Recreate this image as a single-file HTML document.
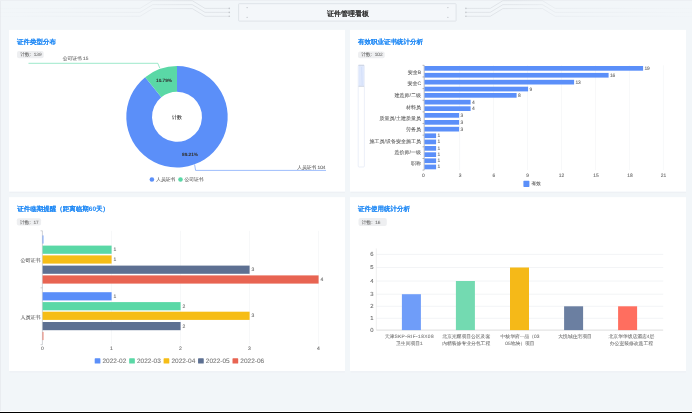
<!DOCTYPE html>
<html><head><meta charset="utf-8"><style>
html,body{margin:0;padding:0;width:692px;height:413px;overflow:hidden;background:#f2f6f9;}
#stage{position:absolute;left:0;top:0;width:2768px;height:1652px;overflow:hidden;transform:scale(0.25);transform-origin:0 0;font-family:"Liberation Sans", sans-serif;text-rendering:geometricPrecision;}
#stage svg{position:absolute;left:0;top:0;}
.t{position:absolute;white-space:nowrap;filter:blur(0.8px);}
</style></head><body><div id="stage">
<svg width="2768" height="1652" viewBox="0 0 692 413">
<rect x="0.00" y="0.00" width="692.00" height="413.00" rx="0" fill="#f2f6f9" />
<rect x="0.00" y="0.00" width="1.00" height="413.00" rx="0" fill="#e9ecf0" />
<rect x="0.00" y="0.00" width="692.00" height="1.00" rx="0" fill="#eceff3" />
<rect x="0.00" y="411.00" width="692.00" height="1.00" rx="0" fill="#ffffff" />
<rect x="0.00" y="412.00" width="692.00" height="1.00" rx="0" fill="#000000" />
<defs><linearGradient id="gl" gradientUnits="userSpaceOnUse" x1="0" y1="0" x2="230" y2="0"><stop offset="0" stop-color="#dfe3e8" stop-opacity="0.1"/><stop offset="0.6" stop-color="#dfe3e8" stop-opacity="0.6"/><stop offset="0.85" stop-color="#d9dde2"/></linearGradient><linearGradient id="gr" gradientUnits="userSpaceOnUse" x1="692" y1="0" x2="465" y2="0"><stop offset="0" stop-color="#dfe3e8" stop-opacity="0.1"/><stop offset="0.6" stop-color="#dfe3e8" stop-opacity="0.6"/><stop offset="0.85" stop-color="#d9dde2"/></linearGradient></defs>
<polyline points="0,8.4 140,8.4 152.7,0.7 192.3,0.7 205,8.4 229,8.4" fill="none" stroke="url(#gl)" stroke-width="0.7"/>
<polyline points="695.2,8.4 555.2,8.4 542.5,0.7 502.90000000000003,0.7 490.20000000000005,8.4 466.20000000000005,8.4" fill="none" stroke="url(#gr)" stroke-width="0.7"/>
<polyline points="0,12.350000000000001 140,12.350000000000001 152.7,4.65 192.3,4.65 205,12.350000000000001 229,12.350000000000001" fill="none" stroke="url(#gl)" stroke-width="0.7"/>
<polyline points="695.2,12.350000000000001 555.2,12.350000000000001 542.5,4.65 502.90000000000003,4.65 490.20000000000005,12.350000000000001 466.20000000000005,12.350000000000001" fill="none" stroke="url(#gr)" stroke-width="0.7"/>
<polyline points="0,16.3 140,16.3 152.7,8.6 192.3,8.6 205,16.3 229,16.3" fill="none" stroke="url(#gl)" stroke-width="0.7"/>
<polyline points="695.2,16.3 555.2,16.3 542.5,8.6 502.90000000000003,8.6 490.20000000000005,16.3 466.20000000000005,16.3" fill="none" stroke="url(#gr)" stroke-width="0.7"/>
<circle cx="229.3" cy="8.4" r="0.8" fill="#c3c7cc"/>
<circle cx="465.9" cy="8.4" r="0.8" fill="#c3c7cc"/>
<circle cx="229.3" cy="12.4" r="0.8" fill="#c3c7cc"/>
<circle cx="465.9" cy="12.4" r="0.8" fill="#c3c7cc"/>
<circle cx="229.3" cy="16.3" r="0.8" fill="#c3c7cc"/>
<circle cx="465.9" cy="16.3" r="0.8" fill="#c3c7cc"/>
<rect x="238.60" y="3.70" width="217.50" height="17.40" rx="0.6" fill="#f4f7fa" stroke="#dde1e6" stroke-width="0.9"/>
<circle cx="247.1" cy="7.6" r="0.6" fill="#b9bdc2"/>
<circle cx="247.1" cy="17.3" r="0.6" fill="#b9bdc2"/>
<circle cx="447.9" cy="7.6" r="0.6" fill="#b9bdc2"/>
<circle cx="447.9" cy="17.3" r="0.6" fill="#b9bdc2"/>
<rect x="9.50" y="191.10" width="335.50" height="2.00" rx="0" fill="#eef1f5" />
<rect x="9.00" y="29.90" width="336.00" height="161.70" rx="0" fill="#ffffff" />
<rect x="9.50" y="370.60" width="335.50" height="2.00" rx="0" fill="#eef1f5" />
<rect x="9.00" y="197.20" width="336.00" height="173.90" rx="0" fill="#ffffff" />
<rect x="350.50" y="191.10" width="335.50" height="2.00" rx="0" fill="#eef1f5" />
<rect x="350.00" y="29.90" width="336.00" height="161.70" rx="0" fill="#ffffff" />
<rect x="350.50" y="370.60" width="335.50" height="2.00" rx="0" fill="#eef1f5" />
<rect x="350.00" y="197.20" width="336.00" height="173.90" rx="0" fill="#ffffff" />
<rect x="17.00" y="51.00" width="26.70" height="7.20" rx="2" fill="#eeeff1" />
<rect x="358.00" y="51.40" width="26.70" height="6.80" rx="2" fill="#eeeff1" />
<rect x="16.80" y="218.20" width="24.30" height="7.40" rx="2" fill="#eeeff1" />
<rect x="358.50" y="218.00" width="28.30" height="7.90" rx="2" fill="#eeeff1" />
<path d="M177.000,66.100 A50.7,50.7 0 1 1 145.197,77.315 L161.318,97.330 A25.0,25.0 0 1 0 177.000,91.800 Z" fill="#5b8ff9"/>
<path d="M145.197,77.315 A50.7,50.7 0 0 1 177.000,66.100 L177.000,91.800 A25.0,25.0 0 0 0 161.318,97.330 Z" fill="#5ad8a6"/>
<polyline points="159.8,68.1 157.8,63.3 28.5,63.3" fill="none" stroke="#5ad8a6" stroke-width="0.6"/>
<polyline points="194.6,164.5 195.6,170.4 326,170.4" fill="none" stroke="#5b8ff9" stroke-width="0.6"/>
<circle cx="151.9" cy="179.5" r="2.3" fill="#5b8ff9"/>
<circle cx="180.5" cy="179.5" r="2.3" fill="#5ad8a6"/>
<rect x="358.20" y="65.10" width="6.20" height="101.90" rx="1" fill="#ffffff" stroke="#dde4f4" stroke-width="0.6"/>
<rect x="358.50" y="65.30" width="5.60" height="21.00" rx="0" fill="#dfe8fc" />
<line x1="361.60" y1="67.00" x2="362.20" y2="85.00" stroke="#c9d7f7" stroke-width="0.5" />
<line x1="358.50" y1="65.30" x2="364.10" y2="65.30" stroke="#b9c2d0" stroke-width="0.6" />
<line x1="358.50" y1="86.30" x2="364.10" y2="86.30" stroke="#b9c2d0" stroke-width="0.6" />
<line x1="459.57" y1="65.30" x2="459.57" y2="170.10" stroke="#eef0f3" stroke-width="0.5" />
<line x1="493.54" y1="65.30" x2="493.54" y2="170.10" stroke="#eef0f3" stroke-width="0.5" />
<line x1="527.51" y1="65.30" x2="527.51" y2="170.10" stroke="#eef0f3" stroke-width="0.5" />
<line x1="561.48" y1="65.30" x2="561.48" y2="170.10" stroke="#eef0f3" stroke-width="0.5" />
<line x1="595.45" y1="65.30" x2="595.45" y2="170.10" stroke="#eef0f3" stroke-width="0.5" />
<line x1="629.42" y1="65.30" x2="629.42" y2="170.10" stroke="#eef0f3" stroke-width="0.5" />
<line x1="663.39" y1="65.30" x2="663.39" y2="170.10" stroke="#eef0f3" stroke-width="0.5" />
<line x1="424.20" y1="65.30" x2="424.20" y2="170.10" stroke="#6e7079" stroke-width="0.5" />
<line x1="422.50" y1="65.30" x2="424.20" y2="65.30" stroke="#6e7079" stroke-width="0.5" />
<line x1="422.50" y1="76.94" x2="424.20" y2="76.94" stroke="#6e7079" stroke-width="0.5" />
<line x1="422.50" y1="88.59" x2="424.20" y2="88.59" stroke="#6e7079" stroke-width="0.5" />
<line x1="422.50" y1="100.23" x2="424.20" y2="100.23" stroke="#6e7079" stroke-width="0.5" />
<line x1="422.50" y1="111.88" x2="424.20" y2="111.88" stroke="#6e7079" stroke-width="0.5" />
<line x1="422.50" y1="123.52" x2="424.20" y2="123.52" stroke="#6e7079" stroke-width="0.5" />
<line x1="422.50" y1="135.17" x2="424.20" y2="135.17" stroke="#6e7079" stroke-width="0.5" />
<line x1="422.50" y1="146.81" x2="424.20" y2="146.81" stroke="#6e7079" stroke-width="0.5" />
<line x1="422.50" y1="158.46" x2="424.20" y2="158.46" stroke="#6e7079" stroke-width="0.5" />
<line x1="422.50" y1="170.10" x2="424.20" y2="170.10" stroke="#6e7079" stroke-width="0.5" />
<rect x="424.50" y="66.00" width="218.60" height="4.70" rx="0" fill="#5b8ff9" />
<rect x="424.50" y="72.90" width="184.10" height="4.70" rx="0" fill="#5b8ff9" />
<rect x="424.50" y="79.80" width="149.60" height="4.70" rx="0" fill="#5b8ff9" />
<rect x="424.50" y="86.70" width="103.60" height="4.70" rx="0" fill="#5b8ff9" />
<rect x="424.50" y="93.00" width="92.10" height="4.70" rx="0" fill="#5b8ff9" />
<rect x="424.50" y="99.80" width="46.10" height="4.70" rx="0" fill="#5b8ff9" />
<rect x="424.50" y="106.30" width="46.10" height="4.70" rx="0" fill="#5b8ff9" />
<rect x="424.50" y="113.00" width="34.60" height="4.70" rx="0" fill="#5b8ff9" />
<rect x="424.50" y="120.00" width="34.60" height="4.70" rx="0" fill="#5b8ff9" />
<rect x="424.50" y="126.80" width="34.60" height="4.70" rx="0" fill="#5b8ff9" />
<rect x="424.50" y="133.40" width="11.60" height="4.70" rx="0" fill="#5b8ff9" />
<rect x="424.50" y="139.60" width="11.60" height="4.70" rx="0" fill="#5b8ff9" />
<rect x="424.50" y="146.00" width="11.60" height="4.70" rx="0" fill="#5b8ff9" />
<rect x="424.50" y="152.30" width="11.60" height="4.70" rx="0" fill="#5b8ff9" />
<rect x="424.50" y="158.40" width="11.60" height="4.70" rx="0" fill="#5b8ff9" />
<rect x="424.50" y="164.60" width="11.60" height="4.70" rx="0" fill="#5b8ff9" />
<rect x="523.40" y="180.80" width="6.00" height="6.10" rx="0.6" fill="#5b8ff9" />
<line x1="111.50" y1="230.80" x2="111.50" y2="344.70" stroke="#eef0f3" stroke-width="0.5" />
<line x1="180.50" y1="230.80" x2="180.50" y2="344.70" stroke="#eef0f3" stroke-width="0.5" />
<line x1="249.50" y1="230.80" x2="249.50" y2="344.70" stroke="#eef0f3" stroke-width="0.5" />
<line x1="318.50" y1="230.80" x2="318.50" y2="344.70" stroke="#eef0f3" stroke-width="0.5" />
<line x1="42.40" y1="230.80" x2="42.40" y2="344.70" stroke="#a0a4aa" stroke-width="0.5" />
<line x1="40.60" y1="230.80" x2="42.40" y2="230.80" stroke="#a0a4aa" stroke-width="0.5" />
<line x1="40.60" y1="287.80" x2="42.40" y2="287.80" stroke="#a0a4aa" stroke-width="0.5" />
<line x1="40.60" y1="344.70" x2="42.40" y2="344.70" stroke="#a0a4aa" stroke-width="0.5" />
<rect x="42.60" y="235.40" width="0.80" height="8.20" rx="0" fill="#5b8ff9" />
<rect x="42.60" y="245.60" width="69.00" height="8.20" rx="0" fill="#5ad8a6" />
<rect x="42.60" y="255.40" width="69.00" height="8.20" rx="0" fill="#f6bd16" />
<rect x="42.60" y="265.60" width="207.00" height="8.20" rx="0" fill="#5d7092" />
<rect x="42.60" y="275.40" width="276.00" height="8.20" rx="0" fill="#e86452" />
<rect x="42.60" y="292.20" width="69.00" height="8.20" rx="0" fill="#5b8ff9" />
<rect x="42.60" y="302.10" width="138.00" height="8.20" rx="0" fill="#5ad8a6" />
<rect x="42.60" y="311.70" width="207.00" height="8.20" rx="0" fill="#f6bd16" />
<rect x="42.60" y="322.00" width="138.00" height="8.20" rx="0" fill="#5d7092" />
<rect x="42.60" y="331.90" width="0.80" height="8.20" rx="0" fill="#e86452" />
<rect x="94.70" y="358.30" width="5.70" height="5.20" rx="0.6" fill="#5b8ff9" />
<rect x="129.15" y="358.30" width="5.70" height="5.20" rx="0.6" fill="#5ad8a6" />
<rect x="163.60" y="358.30" width="5.70" height="5.20" rx="0.6" fill="#f6bd16" />
<rect x="198.05" y="358.30" width="5.70" height="5.20" rx="0.6" fill="#5d7092" />
<rect x="232.50" y="358.30" width="5.70" height="5.20" rx="0.6" fill="#e86452" />
<line x1="376.30" y1="318.30" x2="663.20" y2="318.30" stroke="#e9ebee" stroke-width="0.55" />
<line x1="376.30" y1="306.30" x2="663.20" y2="306.30" stroke="#e9ebee" stroke-width="0.55" />
<line x1="376.30" y1="294.20" x2="663.20" y2="294.20" stroke="#e9ebee" stroke-width="0.55" />
<line x1="376.30" y1="281.00" x2="663.20" y2="281.00" stroke="#e9ebee" stroke-width="0.55" />
<line x1="376.30" y1="267.50" x2="663.20" y2="267.50" stroke="#e9ebee" stroke-width="0.55" />
<line x1="376.30" y1="254.40" x2="663.20" y2="254.40" stroke="#e9ebee" stroke-width="0.55" />
<line x1="376.30" y1="248.50" x2="376.30" y2="330.10" stroke="#e3e3e3" stroke-width="0.6" />
<line x1="376.30" y1="330.10" x2="663.20" y2="330.10" stroke="#d9d9d9" stroke-width="0.9" />
<rect x="401.90" y="294.20" width="19.00" height="35.90" rx="0" fill="#6f9df9" />
<rect x="455.90" y="281.00" width="19.00" height="49.10" rx="0" fill="#73dab1" />
<rect x="510.00" y="267.50" width="19.00" height="62.60" rx="0" fill="#f5b918" />
<rect x="564.10" y="306.30" width="19.00" height="23.80" rx="0" fill="#6b7fa1" />
<rect x="618.10" y="306.30" width="19.00" height="23.80" rx="0" fill="#ff6e5f" />
</svg>
<div class="t" style="left:591.60px;width:1600px;top:26.00px;height:56.00px;line-height:56.00px;font-size:28.00px;color:#333;font-weight:bold;text-align:center;-webkit-text-stroke:0.1px #333">证件管理看板</div>
<div class="t" style="left:68.00px;top:139.00px;height:52.00px;line-height:52.00px;font-size:26.00px;color:#1e88f5;font-weight:bold;text-align:left;-webkit-text-stroke:0.2px #1e88f5">证件类型分布</div>
<div class="t" style="left:1432.00px;top:140.40px;height:52.00px;line-height:52.00px;font-size:26.00px;color:#1e88f5;font-weight:bold;text-align:left;-webkit-text-stroke:0.2px #1e88f5">有效职业证书统计分析</div>
<div class="t" style="left:69.20px;top:808.80px;height:52.00px;line-height:52.00px;font-size:26.00px;color:#1e88f5;font-weight:bold;text-align:left;-webkit-text-stroke:0.2px #1e88f5">证件临期提醒（距离临期60天）</div>
<div class="t" style="left:1432.00px;top:808.40px;height:52.00px;line-height:52.00px;font-size:26.00px;color:#1e88f5;font-weight:bold;text-align:left;-webkit-text-stroke:0.2px #1e88f5">证件使用统计分析</div>
<div class="t" style="left:80.80px;top:200.60px;height:38.00px;line-height:38.00px;font-size:19.00px;color:#777;font-weight:normal;text-align:left;-webkit-text-stroke:0.35px #777">计数:&nbsp; 139</div>
<div class="t" style="left:1444.80px;top:201.40px;height:38.00px;line-height:38.00px;font-size:19.00px;color:#777;font-weight:normal;text-align:left;-webkit-text-stroke:0.35px #777">计数:&nbsp; 102</div>
<div class="t" style="left:80.00px;top:869.80px;height:38.00px;line-height:38.00px;font-size:19.00px;color:#777;font-weight:normal;text-align:left;-webkit-text-stroke:0.35px #777">计数:&nbsp; 17</div>
<div class="t" style="left:1446.80px;top:870.00px;height:38.00px;line-height:38.00px;font-size:19.00px;color:#777;font-weight:normal;text-align:left;-webkit-text-stroke:0.35px #777">计数:&nbsp; 16</div>
<div class="t" style="left:-144.00px;width:1600px;top:301.20px;height:37.60px;line-height:37.60px;font-size:18.80px;color:#333;font-weight:bold;text-align:center;-webkit-text-stroke:0.2px #333">10.79%</div>
<div class="t" style="left:-40.00px;width:1600px;top:596.80px;height:37.60px;line-height:37.60px;font-size:18.80px;color:#333;font-weight:bold;text-align:center;-webkit-text-stroke:0.2px #333">89.21%</div>
<div class="t" style="left:-92.00px;width:1600px;top:448.00px;height:40.00px;line-height:40.00px;font-size:20.00px;color:#333;font-weight:normal;text-align:center;-webkit-text-stroke:0.35px #333">计数</div>
<div class="t" style="left:251.20px;top:217.00px;height:38.00px;line-height:38.00px;font-size:19.00px;color:#666;font-weight:normal;text-align:left;-webkit-text-stroke:0.35px #666">公司证书 15</div>
<div class="t" style="left:-298.00px;width:1600px;top:649.80px;height:38.00px;line-height:38.00px;font-size:19.00px;color:#666;font-weight:normal;text-align:right;-webkit-text-stroke:0.35px #666">人员证书 104</div>
<div class="t" style="left:624.80px;top:699.00px;height:38.00px;line-height:38.00px;font-size:19.00px;color:#666;font-weight:normal;text-align:left;-webkit-text-stroke:0.35px #666">人员证书</div>
<div class="t" style="left:738.00px;top:699.00px;height:38.00px;line-height:38.00px;font-size:19.00px;color:#666;font-weight:normal;text-align:left;-webkit-text-stroke:0.35px #666">公司证书</div>
<div class="t" style="left:84.00px;width:1600px;top:270.40px;height:40.00px;line-height:40.00px;font-size:20.00px;color:#666;font-weight:normal;text-align:right;-webkit-text-stroke:0.35px #666">安全B</div>
<div class="t" style="left:84.00px;width:1600px;top:313.20px;height:40.00px;line-height:40.00px;font-size:20.00px;color:#666;font-weight:normal;text-align:right;-webkit-text-stroke:0.35px #666">安全C</div>
<div class="t" style="left:84.00px;width:1600px;top:362.00px;height:40.00px;line-height:40.00px;font-size:20.00px;color:#666;font-weight:normal;text-align:right;-webkit-text-stroke:0.35px #666">建造师/二级</div>
<div class="t" style="left:84.00px;width:1600px;top:410.00px;height:40.00px;line-height:40.00px;font-size:20.00px;color:#666;font-weight:normal;text-align:right;-webkit-text-stroke:0.35px #666">材料员</div>
<div class="t" style="left:84.00px;width:1600px;top:455.20px;height:40.00px;line-height:40.00px;font-size:20.00px;color:#666;font-weight:normal;text-align:right;-webkit-text-stroke:0.35px #666">质量员/土建质量员</div>
<div class="t" style="left:84.00px;width:1600px;top:496.80px;height:40.00px;line-height:40.00px;font-size:20.00px;color:#666;font-weight:normal;text-align:right;-webkit-text-stroke:0.35px #666">劳务员</div>
<div class="t" style="left:84.00px;width:1600px;top:544.40px;height:40.00px;line-height:40.00px;font-size:20.00px;color:#666;font-weight:normal;text-align:right;-webkit-text-stroke:0.35px #666">施工员/设备安全施工员</div>
<div class="t" style="left:84.00px;width:1600px;top:591.20px;height:40.00px;line-height:40.00px;font-size:20.00px;color:#666;font-weight:normal;text-align:right;-webkit-text-stroke:0.35px #666">造价师/一级</div>
<div class="t" style="left:84.00px;width:1600px;top:635.20px;height:40.00px;line-height:40.00px;font-size:20.00px;color:#666;font-weight:normal;text-align:right;-webkit-text-stroke:0.35px #666">职称</div>
<div class="t" style="left:2577.60px;top:253.80px;height:39.20px;line-height:39.20px;font-size:19.60px;color:#666;font-weight:normal;text-align:left;-webkit-text-stroke:0.35px #666">19</div>
<div class="t" style="left:2439.60px;top:281.40px;height:39.20px;line-height:39.20px;font-size:19.60px;color:#666;font-weight:normal;text-align:left;-webkit-text-stroke:0.35px #666">16</div>
<div class="t" style="left:2301.60px;top:309.00px;height:39.20px;line-height:39.20px;font-size:19.60px;color:#666;font-weight:normal;text-align:left;-webkit-text-stroke:0.35px #666">13</div>
<div class="t" style="left:2117.60px;top:336.60px;height:39.20px;line-height:39.20px;font-size:19.60px;color:#666;font-weight:normal;text-align:left;-webkit-text-stroke:0.35px #666">9</div>
<div class="t" style="left:2071.60px;top:361.80px;height:39.20px;line-height:39.20px;font-size:19.60px;color:#666;font-weight:normal;text-align:left;-webkit-text-stroke:0.35px #666">8</div>
<div class="t" style="left:1887.60px;top:389.00px;height:39.20px;line-height:39.20px;font-size:19.60px;color:#666;font-weight:normal;text-align:left;-webkit-text-stroke:0.35px #666">4</div>
<div class="t" style="left:1887.60px;top:415.00px;height:39.20px;line-height:39.20px;font-size:19.60px;color:#666;font-weight:normal;text-align:left;-webkit-text-stroke:0.35px #666">4</div>
<div class="t" style="left:1841.60px;top:441.80px;height:39.20px;line-height:39.20px;font-size:19.60px;color:#666;font-weight:normal;text-align:left;-webkit-text-stroke:0.35px #666">3</div>
<div class="t" style="left:1841.60px;top:469.80px;height:39.20px;line-height:39.20px;font-size:19.60px;color:#666;font-weight:normal;text-align:left;-webkit-text-stroke:0.35px #666">3</div>
<div class="t" style="left:1841.60px;top:497.00px;height:39.20px;line-height:39.20px;font-size:19.60px;color:#666;font-weight:normal;text-align:left;-webkit-text-stroke:0.35px #666">3</div>
<div class="t" style="left:1749.60px;top:523.40px;height:39.20px;line-height:39.20px;font-size:19.60px;color:#666;font-weight:normal;text-align:left;-webkit-text-stroke:0.35px #666">1</div>
<div class="t" style="left:1749.60px;top:548.20px;height:39.20px;line-height:39.20px;font-size:19.60px;color:#666;font-weight:normal;text-align:left;-webkit-text-stroke:0.35px #666">1</div>
<div class="t" style="left:1749.60px;top:573.80px;height:39.20px;line-height:39.20px;font-size:19.60px;color:#666;font-weight:normal;text-align:left;-webkit-text-stroke:0.35px #666">1</div>
<div class="t" style="left:1749.60px;top:599.00px;height:39.20px;line-height:39.20px;font-size:19.60px;color:#666;font-weight:normal;text-align:left;-webkit-text-stroke:0.35px #666">1</div>
<div class="t" style="left:1749.60px;top:623.40px;height:39.20px;line-height:39.20px;font-size:19.60px;color:#666;font-weight:normal;text-align:left;-webkit-text-stroke:0.35px #666">1</div>
<div class="t" style="left:1749.60px;top:648.20px;height:39.20px;line-height:39.20px;font-size:19.60px;color:#666;font-weight:normal;text-align:left;-webkit-text-stroke:0.35px #666">1</div>
<div class="t" style="left:893.20px;width:1600px;top:681.20px;height:39.20px;line-height:39.20px;font-size:19.60px;color:#666;font-weight:normal;text-align:center;-webkit-text-stroke:0.35px #666">0</div>
<div class="t" style="left:1040.40px;width:1600px;top:681.20px;height:39.20px;line-height:39.20px;font-size:19.60px;color:#666;font-weight:normal;text-align:center;-webkit-text-stroke:0.35px #666">3</div>
<div class="t" style="left:1175.60px;width:1600px;top:681.20px;height:39.20px;line-height:39.20px;font-size:19.60px;color:#666;font-weight:normal;text-align:center;-webkit-text-stroke:0.35px #666">6</div>
<div class="t" style="left:1310.80px;width:1600px;top:681.20px;height:39.20px;line-height:39.20px;font-size:19.60px;color:#666;font-weight:normal;text-align:center;-webkit-text-stroke:0.35px #666">9</div>
<div class="t" style="left:1446.00px;width:1600px;top:681.20px;height:39.20px;line-height:39.20px;font-size:19.60px;color:#666;font-weight:normal;text-align:center;-webkit-text-stroke:0.35px #666">12</div>
<div class="t" style="left:1584.00px;width:1600px;top:681.20px;height:39.20px;line-height:39.20px;font-size:19.60px;color:#666;font-weight:normal;text-align:center;-webkit-text-stroke:0.35px #666">15</div>
<div class="t" style="left:1720.00px;width:1600px;top:681.20px;height:39.20px;line-height:39.20px;font-size:19.60px;color:#666;font-weight:normal;text-align:center;-webkit-text-stroke:0.35px #666">18</div>
<div class="t" style="left:1853.60px;width:1600px;top:681.20px;height:39.20px;line-height:39.20px;font-size:19.60px;color:#666;font-weight:normal;text-align:center;-webkit-text-stroke:0.35px #666">21</div>
<div class="t" style="left:2126.00px;top:716.20px;height:38.00px;line-height:38.00px;font-size:19.00px;color:#666;font-weight:normal;text-align:left;-webkit-text-stroke:0.35px #666">有效</div>
<div class="t" style="left:454.40px;top:978.80px;height:40.00px;line-height:40.00px;font-size:20.00px;color:#666;font-weight:normal;text-align:left;-webkit-text-stroke:0.35px #666">1</div>
<div class="t" style="left:454.40px;top:1018.00px;height:40.00px;line-height:40.00px;font-size:20.00px;color:#666;font-weight:normal;text-align:left;-webkit-text-stroke:0.35px #666">1</div>
<div class="t" style="left:1006.40px;top:1058.80px;height:40.00px;line-height:40.00px;font-size:20.00px;color:#666;font-weight:normal;text-align:left;-webkit-text-stroke:0.35px #666">3</div>
<div class="t" style="left:1282.40px;top:1098.00px;height:40.00px;line-height:40.00px;font-size:20.00px;color:#666;font-weight:normal;text-align:left;-webkit-text-stroke:0.35px #666">4</div>
<div class="t" style="left:454.40px;top:1165.20px;height:40.00px;line-height:40.00px;font-size:20.00px;color:#666;font-weight:normal;text-align:left;-webkit-text-stroke:0.35px #666">1</div>
<div class="t" style="left:730.40px;top:1204.80px;height:40.00px;line-height:40.00px;font-size:20.00px;color:#666;font-weight:normal;text-align:left;-webkit-text-stroke:0.35px #666">2</div>
<div class="t" style="left:1006.40px;top:1243.20px;height:40.00px;line-height:40.00px;font-size:20.00px;color:#666;font-weight:normal;text-align:left;-webkit-text-stroke:0.35px #666">3</div>
<div class="t" style="left:730.40px;top:1284.40px;height:40.00px;line-height:40.00px;font-size:20.00px;color:#666;font-weight:normal;text-align:left;-webkit-text-stroke:0.35px #666">2</div>
<div class="t" style="left:-1438.40px;width:1600px;top:1020.80px;height:40.00px;line-height:40.00px;font-size:20.00px;color:#666;font-weight:normal;text-align:right;-webkit-text-stroke:0.35px #666">公司证书</div>
<div class="t" style="left:-1438.40px;width:1600px;top:1247.60px;height:40.00px;line-height:40.00px;font-size:20.00px;color:#666;font-weight:normal;text-align:right;-webkit-text-stroke:0.35px #666">人员证书</div>
<div class="t" style="left:-630.00px;width:1600px;top:1375.20px;height:40.00px;line-height:40.00px;font-size:20.00px;color:#666;font-weight:normal;text-align:center;-webkit-text-stroke:0.35px #666">0</div>
<div class="t" style="left:-354.00px;width:1600px;top:1375.20px;height:40.00px;line-height:40.00px;font-size:20.00px;color:#666;font-weight:normal;text-align:center;-webkit-text-stroke:0.35px #666">1</div>
<div class="t" style="left:-78.00px;width:1600px;top:1375.20px;height:40.00px;line-height:40.00px;font-size:20.00px;color:#666;font-weight:normal;text-align:center;-webkit-text-stroke:0.35px #666">2</div>
<div class="t" style="left:198.00px;width:1600px;top:1375.20px;height:40.00px;line-height:40.00px;font-size:20.00px;color:#666;font-weight:normal;text-align:center;-webkit-text-stroke:0.35px #666">3</div>
<div class="t" style="left:474.00px;width:1600px;top:1375.20px;height:40.00px;line-height:40.00px;font-size:20.00px;color:#666;font-weight:normal;text-align:center;-webkit-text-stroke:0.35px #666">4</div>
<div class="t" style="left:410.00px;top:1417.60px;height:52.00px;line-height:52.00px;font-size:26.00px;color:#777;font-weight:normal;text-align:left;-webkit-text-stroke:0.35px #777">2022-02</div>
<div class="t" style="left:547.80px;top:1417.60px;height:52.00px;line-height:52.00px;font-size:26.00px;color:#777;font-weight:normal;text-align:left;-webkit-text-stroke:0.35px #777">2022-03</div>
<div class="t" style="left:685.60px;top:1417.60px;height:52.00px;line-height:52.00px;font-size:26.00px;color:#777;font-weight:normal;text-align:left;-webkit-text-stroke:0.35px #777">2022-04</div>
<div class="t" style="left:823.40px;top:1417.60px;height:52.00px;line-height:52.00px;font-size:26.00px;color:#777;font-weight:normal;text-align:left;-webkit-text-stroke:0.35px #777">2022-05</div>
<div class="t" style="left:961.20px;top:1417.60px;height:52.00px;line-height:52.00px;font-size:26.00px;color:#777;font-weight:normal;text-align:left;-webkit-text-stroke:0.35px #777">2022-06</div>
<div class="t" style="left:687.60px;width:1600px;top:1296.00px;height:47.20px;line-height:47.20px;font-size:23.60px;color:#666;font-weight:normal;text-align:center;-webkit-text-stroke:0.35px #666">0</div>
<div class="t" style="left:687.60px;width:1600px;top:1248.80px;height:47.20px;line-height:47.20px;font-size:23.60px;color:#666;font-weight:normal;text-align:center;-webkit-text-stroke:0.35px #666">1</div>
<div class="t" style="left:687.60px;width:1600px;top:1200.80px;height:47.20px;line-height:47.20px;font-size:23.60px;color:#666;font-weight:normal;text-align:center;-webkit-text-stroke:0.35px #666">2</div>
<div class="t" style="left:687.60px;width:1600px;top:1152.40px;height:47.20px;line-height:47.20px;font-size:23.60px;color:#666;font-weight:normal;text-align:center;-webkit-text-stroke:0.35px #666">3</div>
<div class="t" style="left:687.60px;width:1600px;top:1099.60px;height:47.20px;line-height:47.20px;font-size:23.60px;color:#666;font-weight:normal;text-align:center;-webkit-text-stroke:0.35px #666">4</div>
<div class="t" style="left:687.60px;width:1600px;top:1045.60px;height:47.20px;line-height:47.20px;font-size:23.60px;color:#666;font-weight:normal;text-align:center;-webkit-text-stroke:0.35px #666">5</div>
<div class="t" style="left:687.60px;width:1600px;top:993.20px;height:47.20px;line-height:47.20px;font-size:23.60px;color:#666;font-weight:normal;text-align:center;-webkit-text-stroke:0.35px #666">6</div>
<div class="t" style="left:837.60px;width:1600px;top:1328.40px;height:38.40px;line-height:38.40px;font-size:19.20px;color:#777;font-weight:normal;text-align:center;-webkit-text-stroke:0.35px #777">天津<span style="letter-spacing:1.6px">SKP-RIF-18X08</span></div>
<div class="t" style="left:837.60px;width:1600px;top:1355.60px;height:38.40px;line-height:38.40px;font-size:19.20px;color:#777;font-weight:normal;text-align:center;-webkit-text-stroke:0.35px #777">卫生间项目1</div>
<div class="t" style="left:1064.80px;width:1600px;top:1328.40px;height:38.40px;line-height:38.40px;font-size:19.20px;color:#777;font-weight:normal;text-align:center;-webkit-text-stroke:0.35px #777">北京光耀项目公区及套</div>
<div class="t" style="left:1064.80px;width:1600px;top:1355.60px;height:38.40px;line-height:38.40px;font-size:19.20px;color:#777;font-weight:normal;text-align:center;-webkit-text-stroke:0.35px #777">内精装修专业分包工程</div>
<div class="t" style="left:1280.00px;width:1600px;top:1328.40px;height:38.40px;line-height:38.40px;font-size:19.20px;color:#777;font-weight:normal;text-align:center;-webkit-text-stroke:0.35px #777">中核华府一品（03</div>
<div class="t" style="left:1280.00px;width:1600px;top:1355.60px;height:38.40px;line-height:38.40px;font-size:19.20px;color:#777;font-weight:normal;text-align:center;-webkit-text-stroke:0.35px #777">05地块）项目</div>
<div class="t" style="left:1500.40px;width:1600px;top:1328.40px;height:38.40px;line-height:38.40px;font-size:19.20px;color:#777;font-weight:normal;text-align:center;-webkit-text-stroke:0.35px #777">大悦城住宅项目</div>
<div class="t" style="left:1725.60px;width:1600px;top:1328.40px;height:38.40px;line-height:38.40px;font-size:19.20px;color:#777;font-weight:normal;text-align:center;-webkit-text-stroke:0.35px #777">北京华华饭店酒店4层</div>
<div class="t" style="left:1725.60px;width:1600px;top:1355.60px;height:38.40px;line-height:38.40px;font-size:19.20px;color:#777;font-weight:normal;text-align:center;-webkit-text-stroke:0.35px #777">办公室装修改造工程</div>
</div></body></html>
